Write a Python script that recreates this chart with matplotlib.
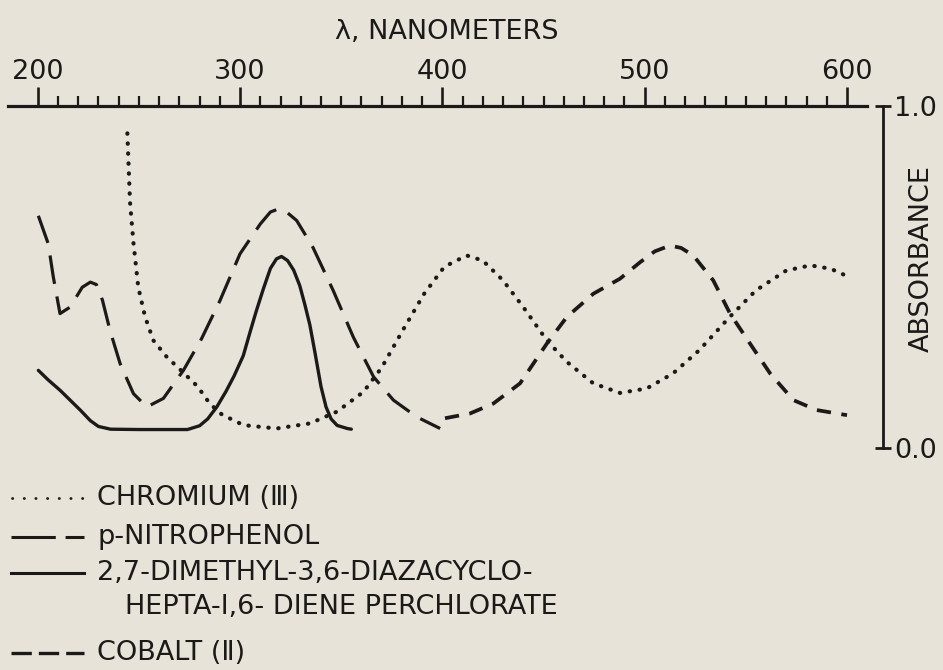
import matplotlib
matplotlib.use("Agg")
import matplotlib.pyplot as plt
from matplotlib.ticker import FixedLocator
from matplotlib.lines import Line2D

plt.rcParams['font.family'] = ['DejaVu Sans', 'Noto Sans CJK SC']

# ---- spectra: wavelength (nm) and absorbance ----
chromium_nm = [244.3, 245.6, 247.3, 249.7, 253.0, 257.1, 263.8, 271.0, 279.0, 285.0,
               291.0, 301.6, 318.0, 334.6, 347.8, 361.0, 370.0, 381.0, 391.0, 401.0,
               412.0, 420.0, 430.0, 440.0, 451.6, 461.5, 474.6, 487.8, 501.0, 514.0,
               527.0, 542.0, 555.0, 570.0, 582.0, 592.0, 601.0]
chromium_abs = [0.92, 0.72, 0.60, 0.47, 0.385, 0.315, 0.266, 0.226, 0.18, 0.13,
                0.098, 0.067, 0.057, 0.072, 0.106, 0.164, 0.235, 0.35, 0.451, 0.53,
                0.563, 0.548, 0.49, 0.412, 0.315, 0.252, 0.189, 0.161, 0.174, 0.218,
                0.286, 0.383, 0.461, 0.519, 0.534, 0.524, 0.50]

nitrophenol_nm = [200.3, 205.2, 207.7, 211.0, 216.0, 222.0, 226.0, 229.0, 232.0, 235.7,
                  240.7, 247.3, 253.9, 262.1, 272.0, 281.0, 290.0, 300.0, 310.0, 315.0,
                  319.0, 323.0, 328.0, 336.0, 346.0, 356.0, 366.0, 375.8, 387.3, 398.9]
nitrophenol_abs = [0.679, 0.597, 0.50, 0.393, 0.412, 0.47, 0.485, 0.478, 0.432, 0.344,
                   0.247, 0.159, 0.12, 0.145, 0.227, 0.32, 0.43, 0.568, 0.655, 0.69,
                   0.699, 0.69, 0.665, 0.587, 0.461, 0.324, 0.208, 0.14, 0.091, 0.057]

diaza_nm = [200.3, 205.0, 211.0, 216.0, 221.0, 226.0, 230.0, 236.0, 250.0, 274.0,
            280.0, 284.0, 288.5, 293.0, 297.0, 301.6, 305.0, 308.0, 311.5, 315.0,
            318.0, 320.5, 323.5, 326.5, 329.5, 332.0, 334.5, 337.0, 340.0, 342.5,
            345.0, 348.0, 353.0, 355.0]
diaza_abs = [0.227, 0.20, 0.169, 0.14, 0.111, 0.08, 0.063, 0.055, 0.054, 0.054,
             0.065, 0.085, 0.12, 0.165, 0.21, 0.27, 0.34, 0.40, 0.465, 0.525,
             0.553, 0.56, 0.548, 0.52, 0.475, 0.42, 0.36, 0.28, 0.18, 0.12,
             0.085, 0.066, 0.057, 0.055]

cobalt_nm = [401.3, 413.7, 425.2, 438.4, 451.6, 461.5, 474.6, 487.8, 497.7, 505.0,
             512.5, 518.0, 524.0, 533.9, 542.2, 552.1, 562.0, 573.5, 585.0, 600.0]
cobalt_abs = [0.087, 0.101, 0.13, 0.189, 0.305, 0.383, 0.451, 0.495, 0.543, 0.575,
              0.592, 0.585, 0.563, 0.49, 0.393, 0.305, 0.218, 0.14, 0.111, 0.096]

major_ticks = [200, 300, 400, 500, 600]
minor_ticks = [w for w in range(210, 600, 10) if w % 100 != 0]
abs_ticks = [0.0, 1.0]
abs_ticklabels = ["0.0", "1.0"]

labels = ["CHROMIUM (\u2162)", "p-NITROPHENOL",
          "2,7-DIMETHYL-3,6-DIAZACYCLO-", "HEPTA-I,6- DIENE PERCHLORATE",
          "COBALT (\u2161)"]

BG = "#e8e3d9"
INK = "#1b1a18"
FS = 19.5

W, H = 943, 670
fig = plt.figure(figsize=(W / 100, H / 100), dpi=100, facecolor=BG)

# plot area in pixel terms
x0, x1, ytop, ybot = 8, 883, 106, 448
ax = fig.add_axes([x0 / W, 1 - ybot / H, (x1 - x0) / W, (ybot - ytop) / H])
ax.set_facecolor(BG)
ax.set_xlim(185.3, 617.8)
ax.set_ylim(0, 1)

# curves
ax.plot(chromium_nm, chromium_abs, color=INK, lw=3.0, linestyle=(0, (0.1, 2.3)),
        dash_capstyle='round')
ax.plot(nitrophenol_nm, nitrophenol_abs, color=INK, lw=2.3, linestyle=(0, (9.0, 4.0)),
        dash_capstyle='butt', dash_joinstyle='round')
ax.plot(diaza_nm, diaza_abs, color=INK, lw=2.4, solid_joinstyle='round',
        solid_capstyle='round')
ax.plot(cobalt_nm, cobalt_abs, color=INK, lw=2.7, linestyle=(0, (3.8, 2.8)),
        dash_capstyle='butt', dash_joinstyle='round')

# axes frame: wavelength scale on top, absorbance bar on right
for side in ("left", "bottom"):
    ax.spines[side].set_visible(False)
ax.spines["top"].set_bounds(185.3, 609.9)
ax.spines["top"].set_linewidth(2.3)
ax.spines["top"].set_color(INK)
ax.spines["right"].set_bounds(0, 1)
ax.spines["right"].set_linewidth(2.0)
ax.spines["right"].set_color(INK)

ax.xaxis.tick_top()
ax.xaxis.set_major_locator(FixedLocator(major_ticks))
ax.xaxis.set_minor_locator(FixedLocator(minor_ticks))
ax.set_xticklabels([str(t) for t in major_ticks])
ax.tick_params(axis='x', which='major', direction='out', length=13.5, width=1.9,
               color=INK, labelsize=FS, labelcolor=INK, pad=1.5)
ax.tick_params(axis='x', which='minor', direction='out', length=7.5, width=1.6,
               color=INK)

ax.yaxis.tick_right()
ax.set_yticks(abs_ticks)
ax.set_yticklabels(abs_ticklabels)
ax.tick_params(axis='y', which='major', direction='inout', length=12, width=2.0,
               color=INK, labelsize=FS, labelcolor=INK, pad=2)

ax.set_xlabel("\u03bb, NANOMETERS", fontsize=FS, color=INK)
ax.xaxis.set_label_position('top')
ax.xaxis.set_label_coords((447 - x0) / (x1 - x0), (ybot - 32) / (ybot - ytop))
ax.xaxis.label.set_verticalalignment('center')

ax.set_ylabel("ABSORBANCE", fontsize=FS, color=INK, rotation=90)
ax.yaxis.set_label_position('right')
ax.yaxis.set_label_coords((922 - x0) / (x1 - x0), (ybot - 259) / (ybot - ytop))
ax.yaxis.label.set_verticalalignment('center')
ax.yaxis.label.set_horizontalalignment('center')

# key below the plot, in pixel coordinates
key = fig.add_axes([0, 0, 1, 1])
key.set_xlim(0, W)
key.set_ylim(H, 0)
key.axis('off')
key.patch.set_alpha(0)

lx0, lx1, tx = 11, 84, 97
key.add_line(Line2D([lx0 + 1, lx1], [498, 498], color=INK, lw=2.0,
                    linestyle=(0, (0.1, 4.1)), dash_capstyle='round'))
key.add_line(Line2D([lx0, lx1], [537, 537], color=INK, lw=2.2,
                    linestyle=(0, (14.5, 3.2)), dash_capstyle='butt'))
key.add_line(Line2D([lx0, lx1], [573, 573], color=INK, lw=2.2))
key.add_line(Line2D([lx0, lx1], [653, 653], color=INK, lw=2.4,
                    linestyle=(0, (6.1, 2.1)), dash_capstyle='butt'))

key.text(tx, 498, labels[0], fontsize=FS, color=INK, va='center', ha='left')
key.text(tx, 537, labels[1], fontsize=FS, color=INK, va='center', ha='left')
key.text(tx, 573, labels[2], fontsize=FS, color=INK, va='center', ha='left')
key.text(125, 607, labels[3], fontsize=FS, color=INK, va='center', ha='left')
key.text(tx, 653, labels[4], fontsize=FS, color=INK, va='center', ha='left')

fig.savefig("out.png", dpi=100, facecolor=BG)
